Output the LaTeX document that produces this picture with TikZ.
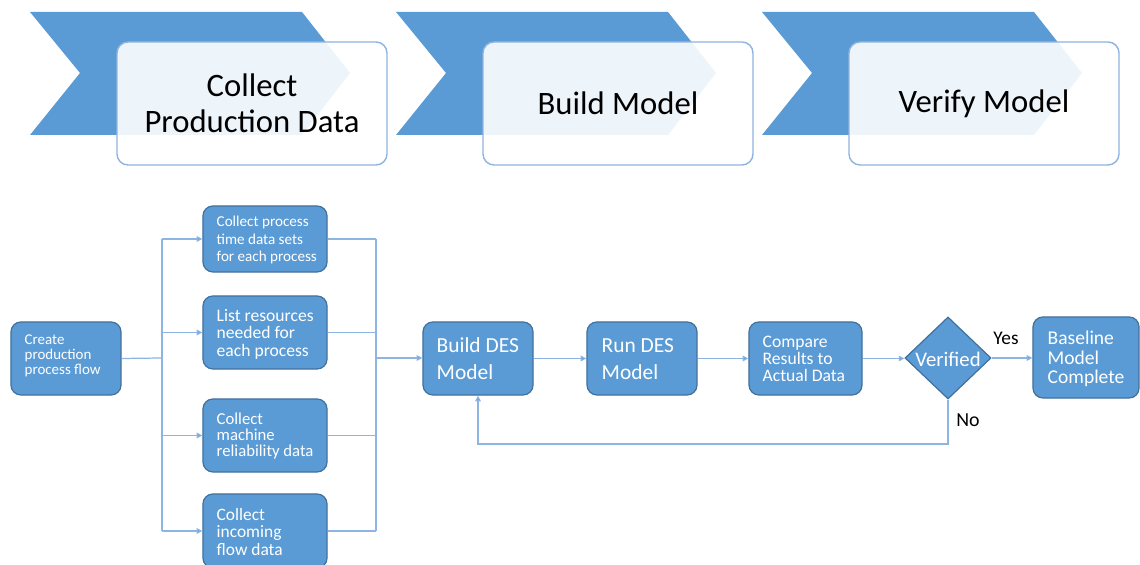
\documentclass[tikz,border=0pt]{standalone}
\usepackage{fontspec}
\setmainfont{Carlito}
\usetikzlibrary{shapes.geometric,arrows.meta}
\definecolor{officeblue}{HTML}{5B9BD5}
\definecolor{boxedge}{HTML}{41719C}
\definecolor{wire}{HTML}{8DB4E2}
\definecolor{paneledge}{HTML}{8FB3DE}
\tikzset{
  chevronshape/.style={fill=officeblue},
  panel/.style={draw=paneledge, line width=0.4pt, fill=white, fill opacity=0.9, rounded corners=0.11cm},
  title/.style={align=center, inner sep=0pt, font=\fontsize{9.3}{10.2}\selectfont},
  stepbox/.style={draw=boxedge, line width=0.35pt, fill=officeblue, rounded corners=0.1cm, inner sep=0pt},
  lbl/.style={text=white, align=left, inner sep=0pt, anchor=west},
  conn/.style={draw=wire, line width=0.35pt},
  arr/.style={conn, -{Triangle[length=1.6pt, width=1.6pt]}, arrows={-{Triangle[length=1.6pt, width=1.6pt, fill=officeblue]}}},
}
\begin{document}
\begin{tikzpicture}[x=0.01cm, y=-0.01cm]
\useasboundingbox (0,0) rectangle (1140,565);

% ---- stage chevrons with their caption panels ----
\foreach \dx/\name/\txt in {0/p1/{Collect\\Production Data}, 366/p2/{Build Model}, 732/p3/{Verify Model}} {
  \begin{scope}[xshift=\dx*0.01cm]
    \fill[chevronshape] (30,12) -- (302,12) -- (350,73) -- (302,135) -- (30,135) -- (80,73) -- cycle;
    \draw[panel] (117,42) rectangle (387,165);
    \node[title] (\name) at (252,103.5) {\txt};
  \end{scope}
}

% ---- process boxes ----
\node[stepbox, minimum width=1.10cm, minimum height=0.73cm] (create) at (66,358.5) {};
\node[lbl, font=\fontsize{4.25}{4.3}\selectfont] (createt) at (24,356) {Create\\production\\process flow};

\node[stepbox, minimum width=1.24cm, minimum height=0.66cm] (cp) at (265,239) {};
\node[lbl, font=\fontsize{4.3}{5.1}\selectfont] (cpt) at (216,240) {Collect process\\time data sets\\for each process};

\node[stepbox, minimum width=1.24cm, minimum height=0.73cm] (lr) at (265,332.5) {};
\node[lbl, font=\fontsize{5.0}{5.0}\selectfont] (lrt) at (216,334) {List resources\\needed for\\each process};

\node[stepbox, minimum width=1.24cm, minimum height=0.73cm] (cm) at (265,435.5) {};
\node[lbl, font=\fontsize{4.75}{4.55}\selectfont] (cmt) at (216,436) {Collect\\machine\\reliability data};

\node[stepbox, minimum width=1.24cm, minimum height=0.74cm] (ci) at (265,531) {};
\node[lbl, font=\fontsize{4.95}{4.85}\selectfont] (cit) at (216,532) {Collect\\incoming\\flow data};

\node[stepbox, minimum width=1.10cm, minimum height=0.73cm] (build) at (478,358.5) {};
\node[lbl, font=\fontsize{6.1}{7.7}\selectfont] (buildt) at (436,359) {Build DES\\Model};

\node[stepbox, minimum width=1.10cm, minimum height=0.73cm] (run) at (642,358.5) {};
\node[lbl, font=\fontsize{6.1}{7.7}\selectfont] (runt) at (601,359) {Run DES\\Model};

\node[stepbox, minimum width=1.13cm, minimum height=0.73cm] (cmp) at (805.5,358.5) {};
\node[lbl, font=\fontsize{5.0}{4.85}\selectfont] (cmpt) at (762,359) {Compare\\Results to\\Actual Data};

\node[diamond, draw=boxedge, line width=0.35pt, fill=officeblue, inner sep=0pt, minimum width=0.86cm, minimum height=0.82cm] (ver) at (948,358) {};
\node[text=white, inner sep=0pt, font=\fontsize{5.9}{6}\selectfont] (vert) at (948,359) {Verified};

\node[stepbox, minimum width=1.06cm, minimum height=0.81cm] (base) at (1086,357.5) {};
\node[lbl, font=\fontsize{5.55}{5.55}\selectfont] (baset) at (1047,359) {Baseline\\Model\\Complete};

% ---- branch labels ----
\node[inner sep=0pt, font=\fontsize{5.5}{6}\selectfont] (yes) at (1006,338) {Yes};
\node[inner sep=0pt, font=\fontsize{5.65}{6}\selectfont] (no) at (968,420) {No};

% ---- connectors ----
\coordinate (lb) at (162,358);
\coordinate (rb) at (376,358);
\coordinate (fb) at (948,444);

\draw[conn] (create.east) -- (lb);
\draw[conn] (lb |- cp.west) -- (lb |- ci.west);
\foreach \b in {cp,lr,cm,ci} {
  \draw[arr] (lb |- \b.west) -- (\b.west);
  \draw[conn] (\b.east) -- (rb |- \b.east);
}
\draw[conn] (rb |- cp.east) -- (rb |- ci.east);
\draw[arr] (rb) -- (rb -| build.west);

\draw[arr] (build.east) -- (build.east -| run.west);
\draw[arr] (run.east) -- (run.east -| cmp.west);
\draw[arr] (cmp.east) -- (cmp.east -| ver.west);
\draw[arr] (ver.east) -- (ver.east -| base.west);
\draw[arr] (ver.south) -- (fb) -| (build.south);
\end{tikzpicture}
\end{document}
